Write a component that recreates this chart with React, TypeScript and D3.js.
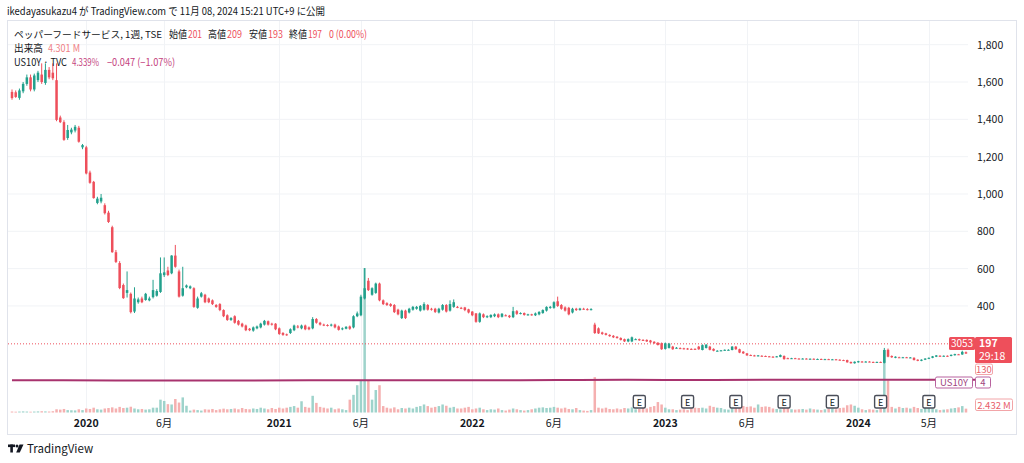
import React from 'react';
import * as d3 from 'd3';

// weekly bars, first bar week of 2019-08-19
const weekStart = '2019-08-19';

// [open, high, low, close]
const candles: [number, number, number, number][] = [
  [1547,1560,1505,1514],[1545,1555,1515,1520],[1515,1565,1505,1555],[1550,1600,1540,1590],
  [1590,1640,1580,1625],[1625,1640,1550,1560],[1560,1645,1550,1635],[1610,1660,1600,1650],
  [1640,1700,1590,1600],[1595,1700,1585,1665],[1665,1680,1615,1625],[1650,1700,1610,1620],
  [1610,1700,1390,1397],[1410,1420,1380,1385],[1385,1395,1285,1290],[1300,1370,1290,1343],
  [1330,1355,1320,1345],[1340,1370,1330,1360],[1355,1365,1275,1280],[1250,1268,1240,1262],
  [1250,1258,1105,1110],[1115,1125,1055,1060],[1065,1070,975,978],[952,985,945,975],
  [960,1000,950,980],[940,950,890,897],[900,910,845,850],[822,830,685,688],
  [688,700,630,636],[630,640,490,496],[512,520,438,442],[470,585,445,485],
  [465,472,360,367],[370,500,362,440],[420,445,412,435],[440,450,415,420],
  [432,470,428,465],[430,450,425,440],[447,540,440,485],[455,490,450,480],
  [475,660,470,575],[565,660,555,580],[590,610,560,566],[575,672,570,670],
  [670,727,605,610],[585,595,445,450],[455,610,450,495],[500,515,495,510],
  [495,510,490,505],[495,500,390,395],[390,450,385,440],[450,475,445,468],
  [460,465,415,420],[440,445,415,420],[430,435,405,410],[405,410,390,395],
  [410,415,372,378],[378,382,340,345],[350,355,320,325],[325,340,320,335],
  [345,350,305,310],[320,325,295,300],[305,310,285,290],[295,300,265,270],
  [278,282,265,270],[268,290,262,285],[280,295,275,290],[285,310,280,305],
  [300,325,295,320],[318,322,295,300],[305,310,295,300],[305,308,270,275],
  [280,285,245,250],
  [255,260,240,245],[248,252,240,245],[255,280,250,275],[270,300,265,295],
  [290,298,280,285],[280,300,275,295],[295,300,270,275],[285,290,270,275],
  [280,340,275,330],[330,335,305,310],[310,315,295,300],[300,305,292,298],
  [298,302,290,295],[295,305,290,300],[300,305,280,285],[290,295,268,272],
  [275,285,270,280],[278,292,275,288],[290,295,272,278],[285,350,280,345],
  [345,370,340,360],[350,460,345,450],[440,603,435,495],[535,550,480,485],
  [460,500,455,495],[470,525,465,520],[520,525,425,430],[430,435,405,410],
  [415,420,400,405],[410,415,395,400],[405,410,362,367],[380,385,350,355],
  [335,380,330,375],[375,380,330,335],[365,390,360,385],[380,400,375,395],
  [385,400,380,395],[375,405,370,400],[380,420,375,410],[405,410,375,380],
  [385,390,375,380],[385,390,362,368],[365,390,360,385],[380,410,375,405],
  [405,410,365,370],[375,430,370,410],[395,435,390,420],[395,400,388,392],
  [390,395,383,388],[392,395,372,378],[382,385,360,365],[370,372,345,350],
  [360,362,310,315],[315,365,310,360],[355,360,335,340],[340,350,335,345],
  [340,355,335,352],[345,360,340,355],[355,360,335,340],[342,362,338,358],
  [350,355,345,348],[348,352,335,340],[340,395,335,372],[372,378,352,358],
  [360,366,355,362],[362,365,348,352],[352,358,348,355],[355,358,348,352],
  [350,365,346,360],[355,372,350,368],[362,382,358,378],[375,398,370,395],
  [390,400,385,395],[390,425,385,420],[425,450,395,400],[405,410,380,385],
  [392,398,370,375],[390,395,350,355],[365,390,360,385],[385,390,373,378],
  [378,390,375,386],[385,390,380,383],[383,388,376,380],[380,388,376,383],
  [300,310,250,255],[280,285,250,253],[258,262,245,250],[253,256,242,245],
  [245,248,235,238],[240,244,228,232],[235,238,225,228],[228,232,215,218],
  [222,225,207,210],[210,226,206,222],[210,236,206,232],[222,226,218,222],
  [222,225,213,216],[218,222,213,216],[218,221,207,210],[215,218,202,205],
  [208,211,197,200],[203,206,188,191],[200,204,165,168],[170,204,166,200],
  [175,202,172,198],[182,186,165,168],[176,180,172,176],[174,178,169,172],
  [173,176,167,170],[172,175,165,168],[170,173,165,168],[170,173,165,168],
  [182,186,165,168],[164,194,162,190],[175,196,172,192],[182,186,162,165],
  [170,173,157,160],[160,163,157,160],[160,164,158,162],[162,167,160,165],
  [165,168,162,165],[164,185,162,182],[182,185,165,168],[168,171,147,150],
  [155,158,143,146],[146,148,133,135],[137,140,132,135],[135,138,130,132],
  [132,137,130,135],[133,136,130,132],[132,134,128,130],[130,132,126,128],
  [128,131,125,127],[127,132,125,130],[127,140,125,137],
  [132,135,112,115],[120,123,116,118],[118,122,116,120],[120,122,116,118],
  [118,120,115,117],[117,120,115,118],[118,120,114,116],[116,119,114,117],
  [117,119,113,115],[115,118,113,116],[116,118,112,114],[114,117,112,115],
  [115,117,111,113],[113,116,111,114],[114,116,110,112],[112,114,108,110],
  [110,112,106,108],[110,112,96,98],[100,102,91,93],[93,103,91,101],
  [98,106,96,104],[102,105,98,100],[100,104,98,102],[102,104,98,100],
  [100,102,97,99],[99,102,97,100],[100,102,95,97],[95,175,92,164],
  [165,172,125,128],[132,135,122,125],[122,130,120,128],[125,128,122,124],
  [124,127,122,125],[125,127,121,123],[123,126,121,124],[122,125,108,110],
  [112,114,104,106],[106,114,104,112],[112,120,110,118],[117,124,115,122],
  [122,132,120,130],[128,137,126,135],[133,136,129,131],[131,135,129,133],
  [133,135,128,130],[132,140,130,138],[136,144,134,142],[141,143,138,140],
  [140,160,138,154],[152,156,143,145],
];

// weekly volume, millions of shares
const volumes: number[] = [
  0.6,0.5,0.6,0.7,0.6,0.5,0.6,0.7,0.8,0.7,0.6,0.8,
  2.0,1.8,2.2,1.5,1.4,1.3,2.0,1.5,
  2.5,2.2,3.0,2.0,1.8,2.5,2.8,3.2,2.5,3.5,2.8,3.0,3.6,2.5,2.0,2.2,1.8,2.0,3.0,
  3.0,8.0,7.2,5.2,5.0,8.4,6.2,9.4,4.2,
  1.2,1.8,1.5,1.2,2.0,1.8,2.2,1.5,2.0,2.4,2.0,2.2,2.5,2.0,2.8,2.2,2.0,2.5,2.2,3.0,2.5,2.0,2.8,2.2,3.0,
  2.5,3.0,3.5,4.0,3.0,7.0,3.5,3.0,
  10.4,6.0,3.5,3.0,2.5,3.0,2.0,2.5,2.0,1.5,
  8,11,17,20,90,20,8,14,17,4,
  3.0,2.5,3.2,2.0,2.8,2.5,3.0,2.5,3.5,4.0,5.0,4.0,3.0,3.5,4.0,5.0,4.2,3.0,3.5,2.5,2.5,3.0,3.5,2.0,2.5,3.0,2.0,
  1.5,2.0,1.8,2.5,1.5,1.2,1.8,2.5,2.0,1.5,1.2,1.5,2.0,2.5,3.0,3.2,2.8,3.0,3.5,3.0,2.5,3.0,2.2,2.0,2.8,1.5,1.2,1.0,1.5,
  22,
  3.0,2.5,3.0,2.2,2.0,2.5,2.0,2.8,2.5,3.2,2.0,2.2,3.0,2.5,3.5,4.0,6.5,5.0,3.0,2.0,
  2.0,1.5,1.8,2.0,1.5,2.5,3.0,2.8,3.0,2.5,4.2,3.5,3.0,2.8,2.0,1.8,2.5,2.8,3.2,4.0,
  3.5,3.8,3.0,5.0,3.5,3.8,3.5,2.5,2.2,2.0,
  2.8,2.5,2.0,1.8,2.0,2.2,1.8,2.5,2.0,1.8,1.5,2.0,2.2,2.5,2.0,2.8,3.0,4.5,5.0,4.2,3.0,2.0,1.5,2.0,1.8,1.5,2.5,
  39,20,
  3.5,2.5,3.5,2.8,3.0,2.5,3.5,2.8,2.2,3.0,3.2,2.5,2.0,1.5,1.8,2.0,2.5,2.8,3.2,4.0,2.4,
];

const priceTicks = [400, 600, 800, 1000, 1200, 1400, 1600, 1800];
const timeTickDates = ['2020-01-06','2020-06-01','2021-01-04','2021-06-07','2022-01-03','2022-06-06','2023-01-02','2023-06-05','2024-01-01','2024-05-13'];
const timeTickLabels = ['2020','6月','2021','6月','2022','6月','2023','6月','2024','5月'];
const earningsDates = ['2022-11-14','2023-02-13','2023-05-15','2023-08-14','2023-11-13','2024-02-12','2024-05-13'];
const us10yDates = ['2019-08-19','2020-03-02','2020-08-03','2021-03-01','2021-12-06','2022-06-13','2022-10-17','2023-04-03','2023-10-16','2023-12-25','2024-04-22','2024-08-12'];
const us10yValues = [1.55,0.9,0.55,1.5,1.45,3.3,4.2,3.35,4.95,3.9,4.65,4.34];
const lastClose = 197;

const UP = '#22a08c';
const DOWN = '#ee4f5b';
const UP_VOL = '#9ed3cb';
const DOWN_VOL = '#f5b0b0';
const FONT = '"Noto Sans CJK JP", "Noto Sans", sans-serif';
const TXT = '#131722';

// legend piece: text squeezed to the width seen in the picture
function Fit({ x, y, w, fill, size = 10.5, children }: { x: number; y: number; w: number; fill: string; size?: number; children: React.ReactNode }) {
  return (
    <text x={x} y={y} fill={fill} fontSize={size} textLength={w} lengthAdjust="spacingAndGlyphs">{children}</text>
  );
}

export default function App() {
  const parse = d3.timeParse('%Y-%m-%d');
  const start = parse(weekStart) as Date;
  const dates = candles.map((_, i) => d3.timeDay.offset(start, i * 7));
  const n = candles.length;

  const x = d3.scaleTime().domain([dates[0], dates[n - 1]]).range([12, 12 + (n - 1) * 3.712]);
  const y = d3.scaleLinear().domain([0, 1800]).range([380.6, 44.7]);
  const yv = d3.scaleLinear().domain([0, 90]).range([412.5, 268]);
  const line = d3.line<[Date, number]>().x(d => x(d[0])).y(d => y(d[1])).curve(d3.curveMonotoneX);
  const us10y = us10yDates.map((d, i) => [parse(d) as Date, us10yValues[i]] as [Date, number]);
  const fmt = d3.format(',');
  const bw = 2.5;

  return (
    <div style={{ position: 'absolute', left: 0, top: 0 }}>
      <svg width={1024} height={463} style={{ display: 'block', background: '#fff', fontFamily: FONT }}>
        <Fit x={7} y={15} w={318} fill={TXT}>ikedayasukazu4 が TradingView.com で 11月 08, 2024 15:21 UTC+9 に公開</Fit>
        <rect x={7.5} y={20.5} width={1009} height={414} fill="none" stroke="#e0e3eb" />

        {/* grid */}
        {priceTicks.map(v => (
          <line key={'h' + v} x1={8} x2={968} y1={y(v)} y2={y(v)} stroke="#f1f3f6" />
        ))}
        {timeTickDates.map(d => {
          const xx = Math.round(x(parse(d) as Date)) + 0.5;
          return <line key={'v' + d} x1={xx} x2={xx} y1={21} y2={413} stroke="#f1f3f6" />;
        })}

        {/* volume */}
        {volumes.map((v, i) => {
          const c = candles[i];
          const up = c[3] >= c[0];
          return (
            <rect key={'vol' + i} x={x(dates[i]) - bw / 2} y={yv(v)} width={bw} height={yv(0) - yv(v)} fill={up ? UP_VOL : DOWN_VOL} />
          );
        })}

        {/* US10Y comparison */}
        <path d={line(us10y) || ''} fill="none" stroke="#a8336e" strokeWidth={2} />

        {/* last price line */}
        <line x1={8} x2={949} y1={y(lastClose)} y2={y(lastClose)} stroke={DOWN} strokeDasharray="1 2" />

        {/* candles */}
        {candles.map((c, i) => {
          const [o, h, l, cl] = c;
          const up = cl >= o;
          const col = up ? UP : DOWN;
          const cx = x(dates[i]);
          const top = y(Math.max(o, cl));
          const bot = y(Math.min(o, cl));
          return (
            <g key={'c' + i}>
              <line x1={cx} x2={cx} y1={y(h)} y2={y(l)} stroke={col} strokeWidth={1} />
              <rect x={cx - bw / 2} y={top} width={bw} height={Math.max(1, bot - top)} fill={col} />
            </g>
          );
        })}

        {/* earnings */}
        {earningsDates.map(d => {
          const xx = x(parse(d) as Date);
          return (
            <g key={'e' + d}>
              <rect x={xx - 6} y={395.5} width={12} height={12.5} rx={1.5} fill="#fff" stroke="#4a4e59" strokeWidth={1.4} />
              <text x={xx} y={405.5} fontSize={9} textAnchor="middle" fill={TXT}>E</text>
            </g>
          );
        })}

        {/* price axis */}
        {priceTicks.map(v => (
          <text key={'pl' + v} x={977} y={y(v) + 4} fontSize={10.5} fill={TXT}>{fmt(v)}</text>
        ))}

        {/* time axis */}
        {timeTickDates.map((d, i) => (
          <text key={'tl' + d} x={x(parse(d) as Date)} y={427} fontSize={10.5} textAnchor="middle"
            fill={TXT} fontWeight={/^\d{4}$/.test(timeTickLabels[i]) ? 700 : 400}>{timeTickLabels[i]}</text>
        ))}

        {/* right labels */}
        <rect x={949} y={337} width={26} height={13} rx={1.5} fill={DOWN} />
        <text x={962} y={347} fontSize={10} textAnchor="middle" fill="#fff">3053</text>
        <rect x={975} y={337} width={37} height={26} rx={1.5} fill={DOWN} />
        <text x={979} y={347} fontSize={10.5} fill="#fff" fontWeight={700}>{lastClose}</text>
        <text x={979} y={360} fontSize={10.5} fill="#fff">29:18</text>
        <rect x={975.5} y={364} width={17} height={10.5} rx={1.5} fill="#fff" stroke="#f2a5a8" />
        <text x={984} y={372.5} fontSize={9.5} textAnchor="middle" fill="#e8606a">130</text>
        <rect x={935.5} y={377} width={37} height={11} rx={1.5} fill="#fff" stroke="#b8639f" />
        <text x={954} y={386} fontSize={9.5} textAnchor="middle" fill="#a0457f">US10Y</text>
        <rect x={975.5} y={377} width={15} height={11} rx={1.5} fill="#fff" stroke="#b8639f" />
        <text x={983} y={386} fontSize={9.5} textAnchor="middle" fill="#a0457f">4</text>
        <rect x={975.5} y={399} width={37} height={11.5} rx={1.5} fill="#fff" stroke="#f2a5a8" />
        <text x={994} y={408.5} fontSize={9.5} textAnchor="middle" fill="#e8606a">2.432 M</text>

        {/* legend */}
        <Fit x={14} y={37.5} w={148} size={9.6} fill={TXT}>ペッパーフードサービス, 1週, TSE</Fit>
        <Fit x={169} y={37.5} w={18} fill={TXT}>始値</Fit>
        <Fit x={188} y={37.5} w={14} fill={DOWN}>201</Fit>
        <Fit x={208} y={37.5} w={18} fill={TXT}>高値</Fit>
        <Fit x={227} y={37.5} w={15} fill={DOWN}>209</Fit>
        <Fit x={249} y={37.5} w={18} fill={TXT}>安値</Fit>
        <Fit x={268} y={37.5} w={15} fill={DOWN}>193</Fit>
        <Fit x={289} y={37.5} w={18} fill={TXT}>終値</Fit>
        <Fit x={308} y={37.5} w={14} fill={DOWN}>197</Fit>
        <Fit x={329} y={37.5} w={38} fill={DOWN}>0 (0.00%)</Fit>
        <Fit x={14} y={51.5} w={29} fill={TXT}>出来高</Fit>
        <Fit x={48} y={51.5} w={32} fill="#ef7f86">4.301 M</Fit>
        <Fit x={14} y={65.5} w={53} fill={TXT}>US10Y · TVC</Fit>
        <Fit x={72} y={65.5} w={27} fill="#c43f7e">4.339%</Fit>
        <Fit x={107} y={65.5} w={68} fill="#c43f7e">−0.047 (−1.07%)</Fit>

        {/* footer logo */}
        <g fill={TXT}>
          <rect x={8} y={444.5} width={7} height={2.6} />
          <rect x={10.3} y={444.5} width={2.6} height={8} />
          <circle cx={17} cy={446} r={1.5} />
          <path d="M19.5 444.5 L23.5 444.5 L19.8 452.5 L16.2 452.5 Z" />
          <text x={27} y={453} fontSize={11.5}>TradingView</text>
        </g>
      </svg>
    </div>
  );
}
